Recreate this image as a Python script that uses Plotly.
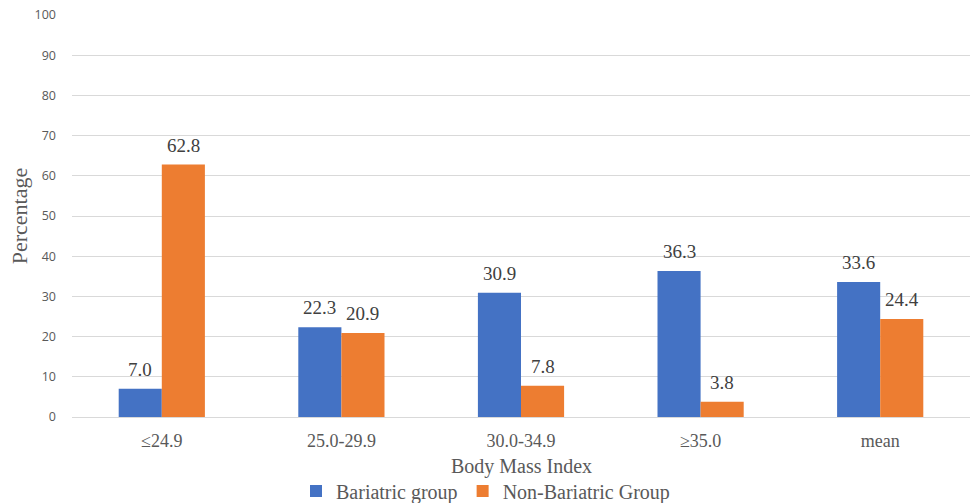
import plotly.graph_objects as go

categories = ["≤24.9", "25.0-29.9", "30.0-34.9", "≥35.0", "mean"]
bariatric = [7.0, 22.3, 30.9, 36.3, 33.6]
non_bariatric = [62.8, 20.9, 7.8, 3.8, 24.4]
y_ticks = list(range(0, 101, 10))

BLUE = "#4472C4"
ORANGE = "#ED7D31"
SERIF = "Liberation Serif"
SANS = "Open Sans"

fig = go.Figure()
fig.add_trace(go.Bar(name="Bariatric group", x=categories, y=bariatric,
                     marker_color=BLUE, marker_line_width=0))
fig.add_trace(go.Bar(name="Non-Bariatric Group", x=categories, y=non_bariatric,
                     marker_color=ORANGE, marker_line_width=0))

for vals, shift in ((bariatric, -21.5), (non_bariatric, 21.5)):
    for c, v in zip(categories, vals):
        fig.add_annotation(x=c, y=v, text=f"{v:.1f}", showarrow=False,
                           xshift=shift, yshift=7, yanchor="bottom",
                           font=dict(family=SERIF, size=19, color="#404040"))

fig.add_annotation(xref="paper", yref="paper", x=0.5, y=-0.122,
                   yanchor="middle", showarrow=False, text="Body Mass Index",
                   font=dict(family=SERIF, size=20, color="#595959"))

fig.update_layout(
    width=971, height=503,
    margin=dict(l=72, r=1, t=15, b=86, autoexpand=False),
    paper_bgcolor="white", plot_bgcolor="white",
    barmode="group", bargap=0.52, bargroupgap=0,
    showlegend=True,
    legend=dict(orientation="h", xref="container", x=0.5, xanchor="center",
                yref="container", y=0.024, yanchor="middle",
                font=dict(family=SERIF, size=20, color="#595959"),
                itemwidth=30, traceorder="normal"),
    xaxis=dict(showgrid=False, ticks="", showline=True, linecolor="#d9d9d9",
               automargin=False,
               tickfont=dict(family=SERIF, size=18, color="#595959"),
               ticklabelstandoff=7),
    yaxis=dict(range=[0, 100], tickvals=y_ticks, showgrid=True,
               gridcolor="#d9d9d9", gridwidth=1, zeroline=False,
               automargin=False,
               ticks="", ticklabelstandoff=15,
               tickfont=dict(family=SANS, size=12.5, color="#595959"),
               title=dict(text="Percentage", standoff=0,
                          font=dict(family=SERIF, size=22, color="#595959"))),
)

fig.write_html("out.html")
